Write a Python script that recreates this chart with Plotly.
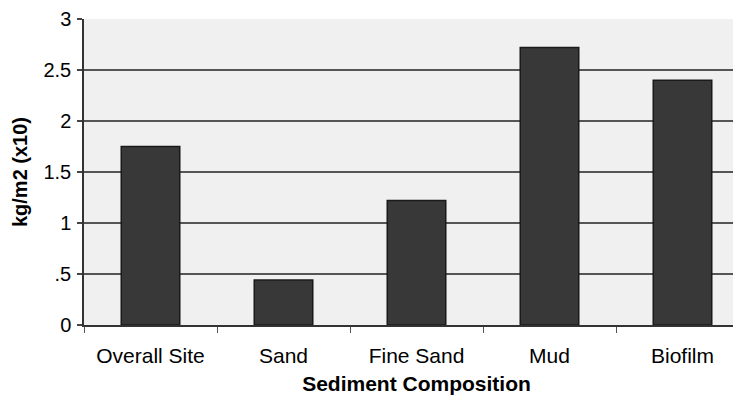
import plotly.graph_objects as go

categories = ["Overall Site", "Sand", "Fine Sand", "Mud", "Biofilm"]
values = [1.75, 0.44, 1.22, 2.72, 2.40]
y_tickvals = [0, 0.5, 1, 1.5, 2, 2.5, 3]
y_ticktext = ["0", ".5", "1", "1.5", "2", "2.5", "3"]

fig = go.Figure()
fig.add_trace(go.Bar(
    x=categories, y=values, width=0.44,
    marker=dict(color="#383838", line=dict(color="#1a1a1a", width=1.5)),
))

font_family = "Liberation Sans, Arial, sans-serif"
fig.update_layout(
    width=741, height=407,
    margin=dict(l=76, r=0, t=11, b=90),
    paper_bgcolor="white",
    plot_bgcolor="#f0f0f0",
    showlegend=False,
    font=dict(family=font_family, color="black", size=21),
)
fig.update_xaxes(
    automargin=False,
    range=[-0.5, 4.5],
    tickson="boundaries",
    ticks="outside", ticklen=6, tickcolor="#555", tickwidth=1,
    showline=True, linecolor="#333", linewidth=1.5,
    showgrid=False,
    tickfont=dict(size=21),
    ticklabelstandoff=11,
    title=dict(text="<b>Sediment Composition</b>", font=dict(size=21), standoff=10),
)
fig.update_yaxes(
    automargin=False,
    range=[0, 3],
    tickvals=y_tickvals, ticktext=y_ticktext,
    ticks="outside", ticklen=5, tickcolor="#444", tickwidth=1.5,
    showline=True, linecolor="#333", linewidth=1.5,
    showgrid=True, gridcolor="#555", gridwidth=1.5,
    zeroline=False,
    tickfont=dict(size=20),
    ticklabelstandoff=2,
    title=dict(text="<b>kg/m2 (x10)</b>", font=dict(size=20), standoff=10),
)

fig.write_html("out.html")
